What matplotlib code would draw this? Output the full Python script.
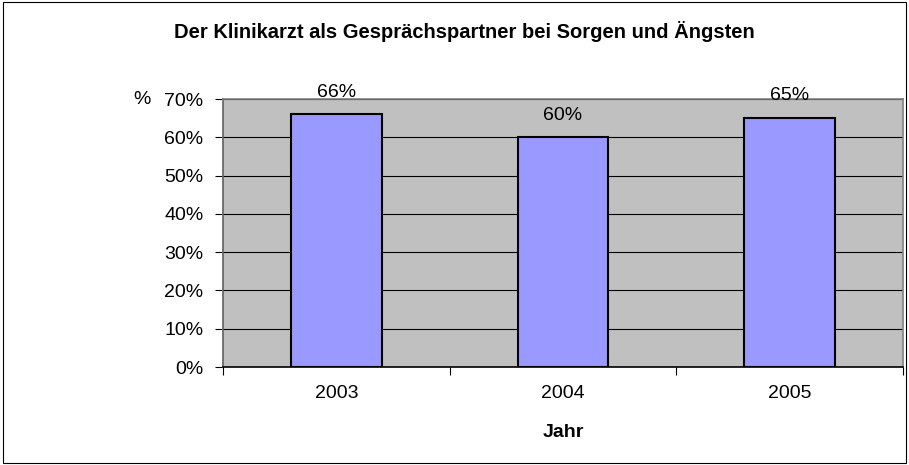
import matplotlib
matplotlib.use('Agg')
import matplotlib.pyplot as plt
from matplotlib.patches import Rectangle
import numpy as np

years = ['2003', '2004', '2005']
values = [66, 60, 65]
value_labels = ['66%', '60%', '65%']
y_ticks = [0, 10, 20, 30, 40, 50, 60, 70]

plt.rcParams['font.family'] = ['Liberation Sans', 'DejaVu Sans']

W, H = 909, 465
fig = plt.figure(figsize=(W / 100, H / 100), dpi=100)
fig.patches.append(Rectangle((3 / W, 2 / H), (W - 6) / W, (H - 4) / H,
                             transform=fig.transFigure, fill=False,
                             edgecolor='black', linewidth=0.8))

# plot area in pixels: x 223..903, y 99..367
ax = fig.add_axes([223 / W, 1 - 367 / H, 680 / W, 268 / H])
ax.set_facecolor('#C0C0C0')

x = np.arange(len(years))
ax.bar(x, values, width=0.4, color='#9999FF', edgecolor='black',
       linewidth=1.5, zorder=3)
for xi, v, lab in zip(x, values, value_labels):
    ax.text(xi, v + 5.8, lab, ha='center', va='center', fontsize=14,
            zorder=4, clip_on=False)

ax.set_xlim(-0.5, len(years) - 0.5)
ax.set_ylim(0, 70)
ax.set_yticks(y_ticks)
ax.set_yticklabels([f'{t}%' for t in y_ticks], fontsize=14)
ax.yaxis.grid(True, color='black', linewidth=0.8, zorder=1)
ax.set_axisbelow(True)

# category labels between boundary ticks
ax.set_xticks(np.arange(len(years) + 1) - 0.5)
ax.set_xticklabels([])
ax.set_xticks(x, minor=True)
ax.set_xticklabels(years, minor=True, fontsize=14)
ax.tick_params(axis='x', which='minor', length=0, pad=13)
ax.tick_params(axis='x', which='major', length=6, width=0.8, direction='out')
ax.tick_params(axis='y', length=6, width=0.8, direction='out', pad=8)

for side in ['top', 'right']:
    ax.spines[side].set_color('#808080')
    ax.spines[side].set_linewidth(1.2)
ax.spines['left'].set_color('#606060')
ax.spines['left'].set_linewidth(1.2)
ax.spines['bottom'].set_color('black')
ax.spines['bottom'].set_linewidth(1.2)

fig.text(464 / W, 1 - 32 / H, 'Der Klinikarzt als Gesprächspartner bei Sorgen und Ängsten',
         ha='center', va='center', fontsize=14.5, fontweight='bold')
fig.text(142 / W, 1 - 99 / H, '%', ha='center', va='center', fontsize=14)
fig.text(563 / W, 1 - 432 / H, 'Jahr', ha='center', va='center',
         fontsize=14, fontweight='bold')

fig.savefig('out.png', dpi=100)
